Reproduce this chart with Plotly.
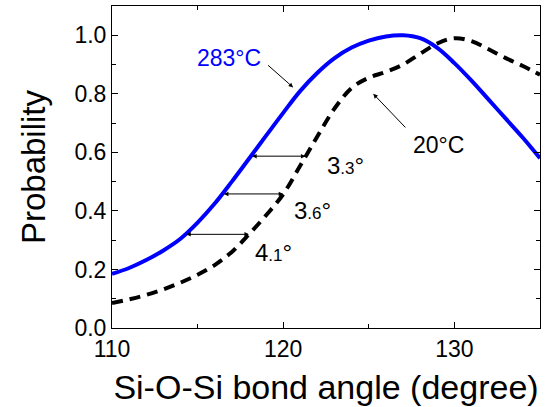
import plotly.graph_objects as go

# ---- data ----
angle = [110, 111, 112, 113, 114, 115, 116, 117, 118, 119, 120, 121, 122,
         123, 124, 125, 126, 127, 128, 129, 130, 131, 132, 133, 134, 135]
prob_283C = [0.185, 0.205, 0.232, 0.265, 0.305, 0.36, 0.425, 0.50, 0.578, 0.657,
             0.735, 0.81, 0.872, 0.922, 0.958, 0.982, 0.996, 1.0, 0.99, 0.957,
             0.905, 0.845, 0.78, 0.715, 0.65, 0.58]
prob_20C = [0.085, 0.098, 0.113, 0.132, 0.155, 0.182, 0.215, 0.26, 0.32, 0.385,
            0.457, 0.555, 0.655, 0.75, 0.82, 0.855, 0.875, 0.90, 0.937, 0.972,
            0.99, 0.98, 0.952, 0.922, 0.895, 0.865]

# shift arrows: probability level, start (283C curve) and end (20C curve) angles
shift_levels = [0.587, 0.458, 0.320]
shift_from = [118.1, 116.45, 114.25]
shift_to = [121.3, 120.0, 118.0]
shift_labels = ["3<span style='font-size:17px'>.3</span>°",
                "3<span style='font-size:17px'>.6</span>°",
                "4<span style='font-size:17px'>.1</span>°"]

y_ticks = [0.0, 0.2, 0.4, 0.6, 0.8, 1.0]
x_ticks = [110, 120, 130]

FONT = "Arial, Liberation Sans, sans-serif"

fig = go.Figure()
fig.add_trace(go.Scatter(x=angle, y=prob_20C, mode="lines",
                         line=dict(color="black", width=4, dash="11px,7px", shape="spline"),
                         name="20°C", showlegend=False))
fig.add_trace(go.Scatter(x=angle, y=prob_283C, mode="lines",
                         line=dict(color="#0000ff", width=4, shape="spline"),
                         name="283°C", showlegend=False))

ann = []
# temperature labels
ann.append(dict(x=116.82, y=0.922, text="283°C", showarrow=False,
                font=dict(size=23, color="#0000ff", family=FONT), xref="x", yref="y"))
ann.append(dict(x=129.05, y=0.624, text="20°C", showarrow=False,
                font=dict(size=23, color="black", family=FONT), xref="x", yref="y"))
# pointer arrows
ann.append(dict(x=120.58, y=0.822, ax=119.03, ay=0.902, axref="x", ayref="y",
                xref="x", yref="y", text="", showarrow=True, arrowhead=2,
                arrowsize=0.9, arrowwidth=1, arrowcolor="black", standoff=0, startstandoff=0))
ann.append(dict(x=125.26, y=0.80, ax=127.22, ay=0.68, axref="x", ayref="y",
                xref="x", yref="y", text="", showarrow=True, arrowhead=2,
                arrowsize=0.9, arrowwidth=1, arrowcolor="black", standoff=0, startstandoff=0))
# shift arrows and labels
label_pos = [(122.44, 0.555), (120.49, 0.402), (118.21, 0.259)]
for lvl, x0, x1, lab, (lx, ly) in zip(shift_levels, shift_from, shift_to, shift_labels, label_pos):
    ann.append(dict(x=x1, y=lvl, ax=x0, ay=lvl, axref="x", ayref="y",
                    xref="x", yref="y", text="", showarrow=True, arrowhead=2,
                    startarrowhead=2, arrowside="end+start", arrowsize=0.9,
                    startarrowsize=0.9,
                    arrowwidth=1, arrowcolor="black", standoff=0, startstandoff=0))
    ann.append(dict(x=lx, y=ly, text=lab, showarrow=False, xanchor="left",
                    font=dict(size=24, color="black", family=FONT), xref="x", yref="y"))

fig.update_layout(
    width=548, height=407,
    margin=dict(l=112, r=8, t=6, b=79, autoexpand=False),
    paper_bgcolor="white", plot_bgcolor="white",
    font=dict(family=FONT, color="black"),
    annotations=ann,
    showlegend=False,
)
fig.update_xaxes(
    range=[110, 135], tickvals=x_ticks, ticktext=[str(v) for v in x_ticks],
    ticks="inside", ticklen=6, tickwidth=1, tickcolor="black",
    minor=dict(dtick=5, tick0=110, ticks="inside", ticklen=4, tickwidth=1, tickcolor="black"),
    showline=True, linecolor="black", linewidth=1, mirror="ticks",
    showgrid=False, zeroline=False, automargin=False,
    tickfont=dict(size=23, family=FONT, color="black"),
    title=dict(text="Si-O-Si bond angle (degree)", font=dict(size=34, family=FONT, color="black"),
               standoff=14),
)
fig.update_yaxes(
    range=[0, 1.1], tickvals=y_ticks, ticktext=["%.1f" % v for v in y_ticks],
    ticks="inside", ticklen=6, tickwidth=1, tickcolor="black",
    minor=dict(dtick=0.1, tick0=0, ticks="inside", ticklen=4, tickwidth=1, tickcolor="black"),
    showline=True, linecolor="black", linewidth=1, mirror="ticks",
    showgrid=False, zeroline=False, automargin=False,
    tickfont=dict(size=23, family=FONT, color="black"),
    title=dict(text="Probability", font=dict(size=33, family=FONT, color="black"), standoff=18),
)

fig.write_html("out.html", config={"displayModeBar": False},
               post_script="document.body.style.margin='0';document.body.style.overflow='hidden';")
